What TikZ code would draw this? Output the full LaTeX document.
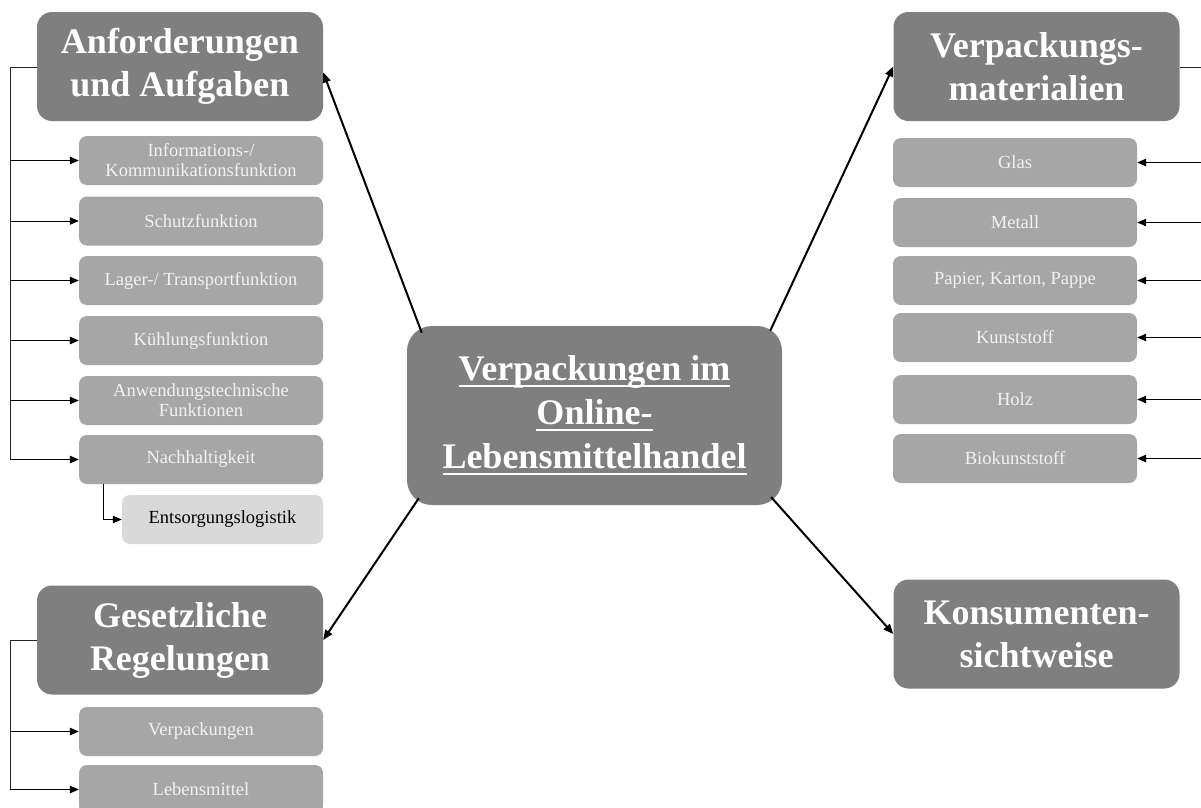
\documentclass[tikz,border=0pt]{standalone}
\usepackage{fontspec}
\setmainfont{Liberation Serif}
\usetikzlibrary{arrows.meta,calc}
\definecolor{hdrgray}{HTML}{7F7F7F}
\definecolor{subgray}{HTML}{A6A6A6}
\definecolor{lightgray2}{HTML}{D9D9D9}
\definecolor{subtext}{HTML}{F2F2F2}
\definecolor{linegray}{HTML}{262626}
\newcommand\myul[1]{\setbox0\hbox{#1}\rlap{\vrule height -4pt depth 6.5pt width \wd0}\box0}
\tikzset{
  hdr/.style={fill=hdrgray, draw=none, rounded corners=15pt, minimum width=286pt, minimum height=109pt,
    inner sep=0pt, align=center, text=white, font=\fontsize{36}{43}\selectfont\bfseries},
  ctr/.style={fill=hdrgray, draw=none, rounded corners=25pt, minimum width=375pt, minimum height=179pt,
    inner sep=0pt, align=center, text=white, font=\fontsize{36}{44}\selectfont\bfseries},
  subbox/.style={fill=subgray, draw=none, rounded corners=8pt, minimum width=244pt, minimum height=49pt,
    inner sep=0pt, align=center, text=subtext, font=\fontsize{18.5}{20}\selectfont},
  subl/.style={fill=lightgray2, draw=none, rounded corners=8pt, minimum width=201pt, minimum height=49pt,
    inner sep=0pt, align=center, text=black, font=\fontsize{18.5}{20}\selectfont},
  tree/.style={draw=linegray, line width=1pt},
  treearr/.style={draw=black, line width=1pt, -{Triangle[length=9pt,width=7.5pt]}},
  mainarr/.style={draw=black, line width=2pt, -{Triangle[length=10pt,width=8pt]}},
}
\begin{document}
\begin{tikzpicture}[x=1pt,y=-1pt]
\useasboundingbox (0,0) rectangle (1201,807);
\fill[white] (0,0) rectangle (1201,807);

% headers
\node[hdr] (anf) at (180,66.5) {Anforderungen\\und Aufgaben};
\node[hdr] (mat) at (1036.5,66.5) {Verpackungs-\\materialien};
\node[hdr] (ges) at (180,640) {Gesetzliche\\Regelungen};
\node[hdr] (kon) at (1036.5,634) {Konsumenten-\\sichtweise};
\node[ctr] (c) at (594.5,415.5) {\myul{Verpackungen im}\\\myul{Online-}\\\myul{Lebensmittelhandel}};

% left subs
\node[subbox] (info) at (201,160.5) {Informations-/\\Kommunikationsfunktion};
\node[subbox] (schutz) at (201,221) {Schutzfunktion};
\node[subbox] (lager) at (201,280.5) {Lager-/ Transportfunktion};
\node[subbox] (kuehl) at (201,340.5) {Kühlungsfunktion};
\node[subbox] (anw) at (201,400.5) {Anwendungstechnische\\Funktionen};
\node[subbox] (nach) at (201,459.5) {Nachhaltigkeit};
\node[subl] (ents) at (222.5,519.5) {Entsorgungslogistik};
\node[subbox] (verp) at (201,731.5) {Verpackungen};
\node[subbox] (lebm) at (201,789.5) {Lebensmittel};

% right subs
\node[subbox] (glas) at (1015,162.5) {Glas};
\node[subbox] (metall) at (1015,222.5) {Metall};
\node[subbox] (papier) at (1015,280.5) {Papier, Karton, Pappe};
\node[subbox] (kunst) at (1015,337.5) {Kunststoff};
\node[subbox] (holz) at (1015,399.5) {Holz};
\node[subbox] (bio) at (1015,458.5) {Biokunststoff};

% left tree (Anforderungen)
\coordinate (lt) at (10,67);
\draw[tree] (anf.west |- lt) -- (lt) -- (lt |- nach.west);
\foreach \n in {info,schutz,lager,kuehl,anw,nach}
  \draw[treearr] (lt |- \n.west) -- (\n.west);
\coordinate (nb) at (103,0);
\draw[treearr] (nb |- nach.south) -- (nb |- ents.west) -- (ents.west);

% left tree (Gesetzliche)
\coordinate (gt) at (10,640);
\draw[tree] (ges.west |- gt) -- (gt) -- (gt |- lebm.west);
\foreach \n in {verp,lebm}
  \draw[treearr] (gt |- \n.west) -- (\n.west);

% right tree (Materialien)
\coordinate (rt) at (1201,67);
\draw[tree] (mat.east |- rt) -- (rt);
\foreach \n in {glas,metall,papier,kunst,holz,bio}
  \draw[treearr] (rt |- \n.east) -- (\n.east);

% main arrows
\draw[mainarr] ($(c.north west)+(15,7)$) -- ($(anf.east)+(0,6)$);
\draw[mainarr] ($(c.north east)+(-12,5)$) -- (mat.west);
\draw[mainarr] ($(c.south west)+(12,-7)$) -- (ges.east);
\draw[mainarr] ($(c.south east)+(-11,-8)$) -- (kon.west);
\end{tikzpicture}
\end{document}
